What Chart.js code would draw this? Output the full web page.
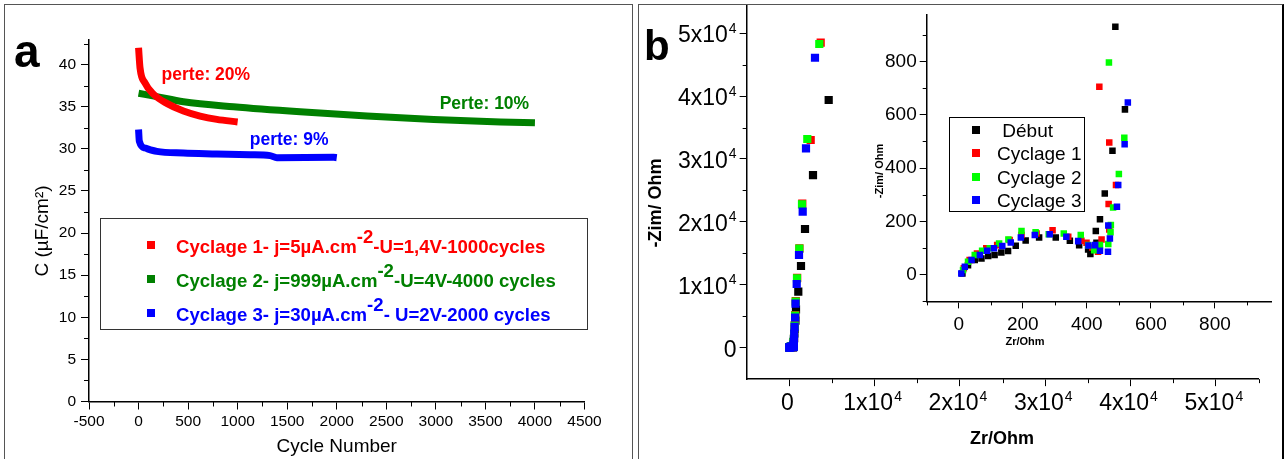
<!DOCTYPE html>
<html><head><meta charset="utf-8">
<script src="https://cdn.jsdelivr.net/npm/chart.js@4/dist/chart.umd.min.js"></script>
<style>
body{margin:0;background:#fff;}
#wrap{position:relative;width:1286px;height:459px;overflow:hidden;font-family:"Liberation Sans",Arial,sans-serif;background:#fff;}
canvas{position:absolute;}
.t{position:absolute;white-space:nowrap;line-height:1;}
.c{transform:translate(-50%,-50%);}
.r{transform:translate(-50%,-50%) rotate(-90deg);}
</style></head>
<body><div id="wrap">
<div style="position:absolute;left:4px;top:4px;width:627px;height:470px;border:1.5px solid #555;"></div>
<div style="position:absolute;left:638px;top:4px;width:643px;height:470px;border:1.5px solid #555;border-right:2px solid #000;"></div>
<canvas id="ca" width="640" height="459" style="left:0;top:0"></canvas>
<canvas id="cb" width="646" height="459" style="left:640px;top:0"></canvas>
<canvas id="cc" width="426" height="350" style="left:860px;top:0"></canvas>
<div id="overlay"></div>
</div>
<script>
// ---------- Panel a data ----------
const cyclesRed   = [0, 15, 67, 150, 285, 453, 621, 790, 1000];
const capRed      = [42.0, 39.6, 37.8, 36.5, 35.4, 34.5, 33.9, 33.5, 33.2];
const cyclesGreen = [0, 184, 453, 958, 1631, 2305, 2978, 3652, 4000];
const capGreen    = [36.6, 36.2, 35.6, 35.0, 34.4, 33.9, 33.5, 33.2, 33.1];
const cyclesBlue  = [0, 8, 66, 184, 453, 790, 1126, 1328, 1396, 1968, 2000];
const capBlue     = [32.3, 30.9, 30.1, 29.7, 29.5, 29.4, 29.3, 29.2, 28.95, 29.0, 28.95];
const cycleTicks  = [-500, 0, 500, 1000, 1500, 2000, 2500, 3000, 3500, 4000, 4500];
const capTicks    = [0, 5, 10, 15, 20, 25, 30, 35, 40];
const seriesA = [
  ['Cyclage 1- j=5µA.cm', '-2', '-U=1,4V-1000cycles'],
  ['Cyclage 2- j=999µA.cm', '-2', '-U=4V-4000 cycles'],
  ['Cyclage 3- j=30µA.cm', '-2', '- U=2V-2000 cycles']
];
const lossLabels = ['perte: 20%', 'Perte: 10%', 'perte: 9%'];

// ---------- Panel b data (Zr, -Zim in Ohm) ----------
const debutZr  = [11.5, 29, 50, 71, 92, 112, 133, 154, 178, 209, 251, 303, 347, 376, 404, 411, 430, 428, 441, 456, 480, 519, 489, 560, 640, 720, 785, 1055, 1371, 1840, 2778, 4617];
const debutZim = [5, 36, 55, 61, 70, 74, 83, 89, 109, 128, 140, 140, 127, 111, 95, 78, 120, 164, 208, 305, 465, 620, 930, 1500, 3000, 4300, 6100, 8900, 12990, 18870, 27450, 39380];
const cyc1Zr   = [16, 34, 57, 86, 120, 159, 196, 243, 293, 342, 383, 399, 417, 435, 446, 470, 468, 491, 470, 439, 550, 590, 640, 700, 760, 920, 1190, 1520, 2508, 3680];
const cyc1Zim  = [24, 55, 80, 99, 111, 130, 149, 155, 167, 142, 127, 120, 102, 86, 132, 170, 265, 336, 496, 705, 1500, 2400, 3600, 5200, 7400, 11100, 15800, 22900, 33020, 48490];
const cyc2Zr   = [13.5, 29, 50, 73, 97, 126, 155, 196, 240, 281, 328, 381, 404, 423, 441, 467, 474, 475, 482, 500, 517, 469, 540, 580, 630, 690, 750, 902, 1172, 1488, 2110, 3516];
const cyc2Zim  = [17.5, 49, 74, 90, 99, 117, 132, 164, 159, 152, 155, 149, 111, 92, 111, 115, 159, 186, 252, 378, 514, 796, 1400, 2300, 3500, 5100, 7310, 11030, 15740, 22800, 33180, 48280];
const cyc3Zr   = [8, 19, 40, 66, 88.5, 110, 136, 162.5, 194, 237.5, 284, 336, 373, 405, 426, 441, 466, 472, 467, 494, 498, 518, 528, 545, 575, 620, 680, 730, 867, 1137, 1570, 1957, 3010];
const cyc3Zim  = [5, 30, 55, 74, 90, 99, 107.5, 121, 140, 149, 152, 142, 126, 110, 111, 90, 86, 136, 185, 255, 336, 489, 646, 1300, 2200, 3300, 4800, 7000, 10130, 14740, 21620, 31700, 46100];
const zMainTicksX = [0, 10000, 20000, 30000, 40000, 50000];
const zMainTicksY = [0, 10000, 20000, 30000, 40000, 50000];
const zInsetTicks = [0, 200, 400, 600, 800];
const seriesB = [' Début', 'Cyclage 1', 'Cyclage 2', 'Cyclage 3'];

// ---------- helpers ----------
const NARROW = "'Liberation Sans Narrow','Liberation Sans',Arial,sans-serif";
const SANS = "'Liberation Sans',Arial,sans-serif";
const pts = (xs, ys) => xs.map((v, i) => ({x: v, y: ys[i]}));
function minorPlugin(cfg){
  return {id:'minor', afterDraw(chart){
    const ctx = chart.ctx;
    ctx.save(); ctx.strokeStyle = '#000'; ctx.lineWidth = 1;
    for (const id in cfg){
      const s = chart.scales[id], c = cfg[id];
      ctx.beginPath();
      for (let v = c.from; v <= c.to + 1e-9; v += c.step){
        const p = Math.round(s.getPixelForValue(v)) + 0.5;
        if (s.isHorizontal()){ ctx.moveTo(p, s.top); ctx.lineTo(p, s.top + c.len); }
        else { ctx.moveTo(s.right, p); ctx.lineTo(s.right - c.len, p); }
      }
      ctx.stroke();
    }
    ctx.restore();
  }};
}
// draws "Nx10" with a raised exponent for each tick of the given scales
function sciLabelPlugin(){
  return {id:'sciLabels', afterDraw(chart){
    const ctx = chart.ctx;
    ctx.save(); ctx.fillStyle = '#000'; ctx.textBaseline = 'alphabetic';
    const big = "23px " + SANS, small = "14px " + SANS;
    for (const id of ['x', 'y']){
      const s = chart.scales[id];
      s.ticks.forEach(t => {
        const v = t.value, p = s.getPixelForValue(v);
        const base = v === 0 ? '0' : (v / 10000) + 'x10';
        const sup = v === 0 ? '' : '4';
        ctx.font = big; const wb = ctx.measureText(base).width;
        ctx.font = small; const ws = sup ? ctx.measureText(sup).width + 1 : 0;
        let x0, yb;
        if (id === 'x'){ x0 = p - 2 - (wb + ws) / 2; yb = s.top + 31; }
        else { x0 = s.right - 10 - (wb + ws); yb = p + 9; }
        ctx.font = big; ctx.textAlign = 'left'; ctx.fillText(base, x0, yb);
        if (sup){ ctx.font = small; ctx.fillText(sup, x0 + wb + 1, yb - 9.5); }
      });
    }
    ctx.restore();
  }};
}
function annotPlugin(items){
  return {id:'annot', afterDatasetsDraw(chart){
    const {ctx, scales:{x, y}} = chart;
    items.forEach(it => {
      ctx.save(); ctx.font = it.font; ctx.fillStyle = it.color;
      ctx.textAlign = 'center'; ctx.textBaseline = 'middle';
      ctx.fillText(it.text, x.getPixelForValue(it.x), y.getPixelForValue(it.y));
      ctx.restore();
    });
  }};
}
function axis(opts){
  const o = {
    type:'linear', min:opts.min, max:opts.max,
    afterBuildTicks: s => { s.ticks = opts.ticks.map(v => ({value:v})); },
    afterFit: s => { if (opts.w !== undefined) s.width = opts.w; if (opts.h !== undefined) s.height = opts.h; },
    border:{display:true, color:'#000', width:1.5},
    grid:{display:true, drawOnChartArea:false, drawTicks:true, tickLength:opts.tl, tickColor:'#000', tickWidth:1},
    ticks:{display:opts.hideLabels ? false : true, color:'#000', font:opts.font, padding:opts.pad, maxRotation:0, autoSkip:false, callback: opts.cb || (v => String(v))}
  };
  if (opts.title) o.title = opts.title;
  return o;
}
const base = {responsive:false, animation:false, devicePixelRatio:1, events:[],
  plugins:{legend:{display:false}, tooltip:{enabled:false}}};

// ---------- Chart a ----------
const lineDs = (label, xs, ys, col) => ({label, data:pts(xs, ys), borderColor:col, backgroundColor:col,
  borderWidth:7, pointRadius:0, borderCapStyle:'butt', borderJoinStyle:'round', cubicInterpolationMode:'monotone', fill:false});
new Chart(document.getElementById('ca'), {
  type:'line',
  data:{datasets:[
    lineDs('Cyclage 1', cyclesRed, capRed, '#ff0000'),
    lineDs('Cyclage 2', cyclesGreen, capGreen, '#008000'),
    lineDs('Cyclage 3', cyclesBlue, capBlue, '#0000ff')
  ]},
  options:Object.assign({}, base, {
    layout:{padding:{left:0, top:39.4, right:55.5, bottom:0}},
    scales:{
      x: axis({min:-500, max:4500, ticks:cycleTicks, h:57.5, tl:8, pad:3, font:{family:NARROW, size:15.5},
        title:{display:true, text:'Cycle Number', color:'#000', font:{family:NARROW, size:19}, padding:{top:0, bottom:1}}}),
      y: axis({min:0, max:43, ticks:capTicks, w:89, tl:8, pad:5, font:{family:NARROW, size:15.5}})
    }
  }),
  plugins:[minorPlugin({x:{from:-250, to:4250, step:500, len:5}, y:{from:2.5, to:42.5, step:5, len:5}}),
    annotPlugin([
      {text:lossLabels[0], x:679, y:38.7, color:'#ff0000', font:"bold 17.5px " + NARROW},
      {text:lossLabels[1], x:3490, y:35.33, color:'#008000', font:"bold 17.5px " + NARROW},
      {text:lossLabels[2], x:1520, y:31.05, color:'#0000ff', font:"bold 17.5px " + NARROW}
    ])]
});

// ---------- Chart b (main + inset) ----------
const colsB = ['#000000', '#ff0000', '#00ff00', '#0000ff'];
const seriesData = [[debutZr, debutZim], [cyc1Zr, cyc1Zim], [cyc2Zr, cyc2Zim], [cyc3Zr, cyc3Zim]];
const scatterSets = r => seriesData.map((d, i) => ({label:seriesB[i].trim(), data:pts(d[0], d[1]), pointStyle:'rect',
  pointRadius:r, pointBorderWidth:0, backgroundColor:colsB[i], borderColor:colsB[i], showLine:false, order:3 - i}));
const sci = v => v === 0 ? '0' : (v / 10000) + 'x10⁴';
new Chart(document.getElementById('cb'), {
  type:'scatter',
  data:{datasets:scatterSets(5.8)},
  options:Object.assign({}, base, {
    layout:{padding:{left:0, top:6.15, right:27.5, bottom:0}},
    scales:{
      x: axis({min:-5000, max:55000, ticks:zMainTicksX, h:79.85, tl:7, pad:6, cb:sci, hideLabels:true, font:{family:SANS, size:23}}),
      y: axis({min:-5000, max:54300, ticks:zMainTicksY, w:106.65, tl:7, pad:3, cb:sci, hideLabels:true, font:{family:SANS, size:23}})
    }
  }),
  plugins:[minorPlugin({x:{from:5000, to:55000, step:10000, len:4}, y:{from:5000, to:45000, step:10000, len:4}}), sciLabelPlugin()]
});
new Chart(document.getElementById('cc'), {
  type:'scatter',
  data:{datasets:scatterSets(4.6)},
  options:Object.assign({}, base, {
    layout:{padding:{left:0, top:14.7, right:15, bottom:0}},
    scales:{
      x: axis({min:-100, max:975, ticks:zInsetTicks, h:48.6, tl:7, pad:5, font:{family:SANS, size:19}}),
      y: axis({min:-100, max:975, ticks:zInsetTicks, w:66.7, tl:7, pad:3, font:{family:SANS, size:19}})
    }
  }),
  plugins:[minorPlugin({x:{from:-100, to:900, step:200, len:4}, y:{from:-100, to:900, step:200, len:4}})]
});

// ---------- overlay texts / legends ----------
const ov = document.getElementById('overlay');
function add(html, style, cls){ const d = document.createElement('div'); d.className = 't ' + (cls || ''); d.style.cssText = style; d.innerHTML = html; ov.appendChild(d); return d; }
add('a', 'left:14px;top:24px;font:bold 46px ' + SANS + ';');
add('b', 'left:644px;top:22px;font:bold 42px ' + SANS + ';');
add('C (µF/cm²)', 'left:42px;top:231px;font:19px ' + NARROW + ';', 'r');
// legend a
add('', 'left:100px;top:218px;width:486px;height:110px;border:1px solid #333;');
const colsA = ['#ff0000', '#008000', '#0000ff'];
const rowsA = [245, 279, 313];
seriesA.forEach((p, i) => {
  add('', 'left:147px;top:' + (rowsA[i] - 4) + 'px;width:8px;height:8px;background:' + colsA[i] + ';');
  add(p[0] + '<span style="position:relative;top:-0.55em;">' + p[1] + '</span>' + p[2],
    'left:176px;top:' + (rowsA[i] - 9) + 'px;color:' + colsA[i] + ';font:bold 18.6px ' + NARROW + ';');
});
// panel b titles
add('-Zim/ Ohm', 'left:655px;top:203px;font:bold 18px ' + SANS + ';', 'r');
add('Zr/Ohm', 'left:1002px;top:438px;font:bold 18px ' + SANS + ';', 'c');
add('-Zim/ Ohm', 'left:879px;top:171px;font:bold 11px ' + SANS + ';', 'r');
add('Zr/Ohm', 'left:1025px;top:341px;font:bold 11px ' + SANS + ';', 'c');
// legend b
add('', 'left:949px;top:117px;width:134px;height:93px;border:1px solid #000;');
const rowsB = [130, 153, 177, 200];
seriesB.forEach((n, i) => {
  add('', 'left:972px;top:' + (rowsB[i] - 4) + 'px;width:8px;height:8px;background:' + colsB[i] + ';');
  add(n.replace(' ', '&nbsp;'), 'left:997px;top:' + (rowsB[i] - 10) + 'px;font:19px ' + SANS + ';');
});
</script>
</body></html>
